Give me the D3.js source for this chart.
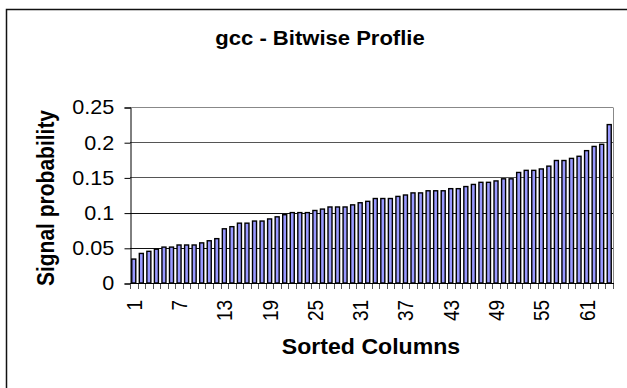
<!DOCTYPE html>
<head><style>body{margin:0;background:#fff}</style></head>
<body></body>
<script src="https://d3js.org/d3.v7.min.js"></script>
<script>
var columns = d3.range(1, 65);
var probability = [
  0.034, 0.042, 0.045, 0.048, 0.051, 0.051, 0.054, 0.054, 0.054, 0.057,
  0.060, 0.063, 0.077, 0.080, 0.085, 0.085, 0.088, 0.088, 0.091, 0.094,
  0.097, 0.100, 0.100, 0.100, 0.103, 0.105, 0.108, 0.108, 0.108, 0.111,
  0.114, 0.116, 0.120, 0.120, 0.120, 0.123, 0.125, 0.128, 0.128, 0.131,
  0.131, 0.131, 0.134, 0.134, 0.137, 0.140, 0.143, 0.143, 0.145, 0.148,
  0.148, 0.157, 0.160, 0.160, 0.162, 0.166, 0.174, 0.174, 0.177, 0.180,
  0.188, 0.194, 0.197, 0.225
];
var yTicks = [0, 0.05, 0.1, 0.15, 0.2, 0.25];
var xTickLabels = [1, 7, 13, 19, 25, 31, 37, 43, 49, 55, 61];

var width = 627, height = 388;
var plotLeft = 130, plotRight = 613, plotTop = 107, plotBottom = 283;
var fontFamily = 'Arial, "Liberation Sans", sans-serif';

var svg = d3.select('body').append('svg')
    .attr('width', width).attr('height', height)
    .style('font-family', fontFamily);

// outer chart frame (clipped on right and bottom)
svg.append('rect')
    .attr('x', 6.5).attr('y', 9.5)
    .attr('width', 700).attr('height', 500)
    .attr('fill', 'none').attr('stroke', '#111').attr('stroke-width', 1.5);

var x = d3.scaleBand().domain(columns).range([plotLeft, plotRight]).paddingInner(0.47).paddingOuter(0.235);
var xEdges = d3.scaleLinear().domain([0, 64]).range([plotLeft, plotRight]);
var y = d3.scaleLinear().domain([0, 0.25]).range([plotBottom, plotTop]);

// gridlines
svg.append('g').selectAll('line')
    .data(yTicks.filter(function(d){ return d > 0; }))
    .enter().append('line')
    .attr('x1', plotLeft).attr('x2', plotRight)
    .attr('y1', function(d){ return Math.round(y(d)) + 0.5; })
    .attr('y2', function(d){ return Math.round(y(d)) + 0.5; })
    .attr('stroke', function(d){ return d == 0.25 ? '#888' : d >= 0.15 ? '#555' : '#111'; });

// right border of plot area
svg.append('line')
    .attr('x1', plotRight + 0.5).attr('x2', plotRight + 0.5)
    .attr('y1', Math.round(y(0.25)) + 0.5).attr('y2', plotBottom)
    .attr('stroke', '#888');

// bars
svg.append('g').selectAll('rect')
    .data(probability)
    .enter().append('rect')
    .attr('x', function(d, i){ return x(columns[i]); })
    .attr('y', function(d){ return y(d); })
    .attr('width', x.bandwidth())
    .attr('height', function(d){ return plotBottom - y(d); })
    .attr('fill', '#9999ff')
    .attr('stroke', '#000')
    .attr('stroke-width', 1.4);

// y axis
var yAxis = svg.append('g')
    .attr('transform', 'translate(' + (plotLeft + 0.5) + ',0.5)')
    .call(d3.axisLeft(y).tickValues(yTicks).tickSize(6).tickPadding(9)
        .tickFormat(function(d){ return String(+d.toFixed(2)); }));
yAxis.select('.domain').attr('stroke', '#000');
yAxis.selectAll('.tick line').attr('stroke', '#000');
yAxis.selectAll('text').attr('font-size', 20).attr('fill', '#000')
    .attr('font-family', fontFamily)
    .attr('transform', 'scale(1.08,1)');

// x axis ticks between categories
svg.append('g').selectAll('line')
    .data(d3.range(0, 65))
    .enter().append('line')
    .attr('x1', function(d){ return Math.round(xEdges(d)) + 0.5; })
    .attr('x2', function(d){ return Math.round(xEdges(d)) + 0.5; })
    .attr('y1', plotBottom).attr('y2', plotBottom + 6)
    .attr('stroke', '#555');
svg.append('line')
    .attr('x1', plotLeft).attr('x2', plotRight + 1)
    .attr('y1', plotBottom + 0.5).attr('y2', plotBottom + 0.5)
    .attr('stroke', '#000');

// x tick labels, rotated
svg.append('g').selectAll('text')
    .data(xTickLabels)
    .enter().append('text')
    .attr('transform', function(d){
        return 'translate(' + (x(d) + x.bandwidth() / 2 + 8) + ',' + (plotBottom + 17) + ') scale(1.2,1) rotate(-90)';
    })
    .attr('text-anchor', 'end')
    .attr('font-size', 19)
    .text(function(d){ return d; });

// titles
svg.append('text')
    .attr('transform', 'translate(320,45) scale(1.05,1)')
    .attr('text-anchor', 'middle')
    .attr('font-size', 21).attr('font-weight', 'bold')
    .text('gcc - Bitwise Proflie');

svg.append('text')
    .attr('transform', 'translate(54,198) scale(1.1,1) rotate(-90)')
    .attr('text-anchor', 'middle')
    .attr('font-size', 21).attr('font-weight', 'bold')
    .text('Signal probability');

svg.append('text')
    .attr('transform', 'translate(371,354) scale(1.05,1)')
    .attr('text-anchor', 'middle')
    .attr('font-size', 22).attr('font-weight', 'bold')
    .text('Sorted Columns');
</script>
